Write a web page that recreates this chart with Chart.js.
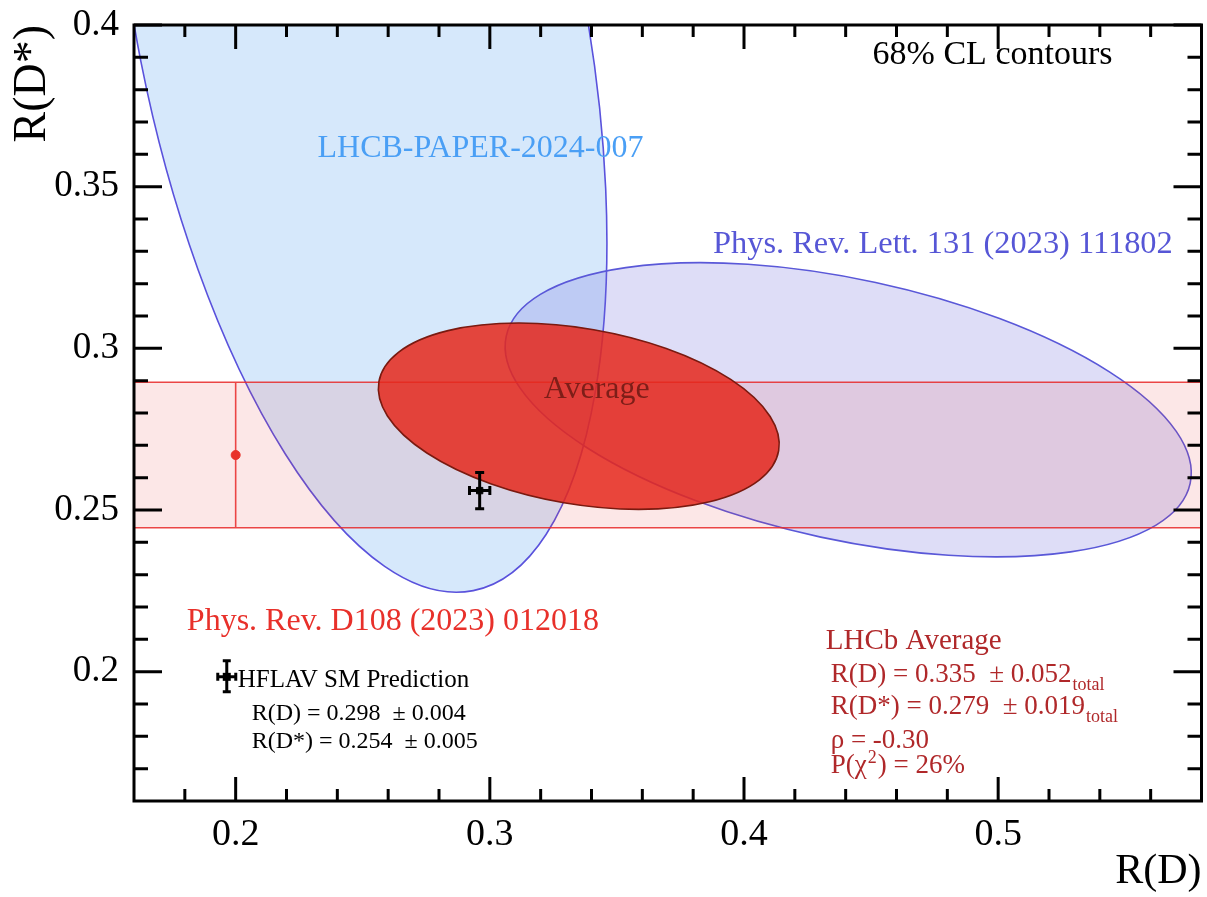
<!DOCTYPE html>
<html>
<head>
<meta charset="utf-8">
<title>R(D) vs R(D*)</title>
<script src="https://cdn.jsdelivr.net/npm/chart.js@4.4.1/dist/chart.umd.min.js"></script>
<style>
  html, body { margin: 0; padding: 0; background: #ffffff; }
  canvas { display: block; }
</style>
</head>
<body>
<canvas id="rdChart" width="1207" height="897"></canvas>
<script>
// contornos 68% CL (centro, error total, correlacion)
const contourNames = ['LHCB-PAPER-2024-007', 'Phys. Rev. Lett. 131 (2023) 111802', 'Average'];
const contourRD = [0.249, 0.441, 0.335];
const contourRDs = [0.402, 0.281, 0.279];
const contourErrRD = [0.064, 0.089, 0.052];
const contourErrRDs = [0.117, 0.030, 0.019];
const contourRho = [-0.39, -0.43, -0.30];
const contourDeltaChi2 = 2.30;

// banda R(D*) de Phys. Rev. D108 (2023) 012018
const bandRD = 0.2;
const bandRDs = 0.267;
const bandErrRDs = 0.0225;

// prediccion SM (HFLAV)
const smRD = 0.296;
const smRDs = 0.256;
const smErrRD = 0.004;
const smErrRDs = 0.0056;

// ticks
const xMajorTicks = [0.2, 0.3, 0.4, 0.5];
const xMinorTicks = [0.18, 0.22, 0.24, 0.26, 0.28, 0.32, 0.34, 0.36, 0.38, 0.42, 0.44, 0.46, 0.48, 0.52, 0.54, 0.56];
const yMajorTicks = [0.2, 0.25, 0.3, 0.35, 0.4];
const yMinorTicks = [0.17, 0.18, 0.19, 0.21, 0.22, 0.23, 0.24, 0.26, 0.27, 0.28, 0.29, 0.31, 0.32, 0.33, 0.34, 0.36, 0.37, 0.38, 0.39];

const SERIF = '"Liberation Serif", "Times New Roman", serif';

// estilos de los contornos
const contourFill = ['rgba(105, 170, 240, 0.27)', 'rgba(105, 100, 220, 0.22)', 'rgba(229, 40, 28, 0.85)'];
const contourLine = ['#5a52dc', '#5a58d8', '#7a1a10'];

// textos sobre la grafica (posicion en coordenadas de datos)
const notes = [
    { text: '68% CL contours', x: 0.4506, y: 0.3879, size: 34, color: '#000000' },
    { text: 'LHCB-PAPER-2024-007', x: 0.2322, y: 0.3592, size: 32, color: '#4a9ff5' },
    { text: 'Phys. Rev. Lett. 131 (2023) 111802', x: 0.3878, y: 0.3295, size: 32.4, color: '#5656d6' },
    { text: 'Average', x: 0.3212, y: 0.2846, size: 32, color: '#7d1e18' },
    { text: 'Phys. Rev. D108 (2023) 012018', x: 0.1808, y: 0.2129, size: 32, color: '#e8302a' },
    { text: 'HFLAV SM Prediction', x: 0.2008, y: 0.1953, size: 25, color: '#000000' },
    { text: 'R(D) = 0.298  \u00b1 0.004', x: 0.2063, y: 0.1852, size: 24, color: '#000000' },
    { text: 'R(D*) = 0.254  \u00b1 0.005', x: 0.2063, y: 0.1763, size: 24, color: '#000000' },
    { text: 'LHCb Average', x: 0.4322, y: 0.2070, size: 29, color: '#b0282a' },
    { text: 'R(D) = 0.335  \u00b1 0.052', sub: 'total', x: 0.4341, y: 0.1968, size: 27, color: '#b0282a' },
    { text: 'R(D*) = 0.279  \u00b1 0.019', sub: 'total', x: 0.4341, y: 0.1869, size: 27, color: '#b0282a' },
    { text: '\u03c1 = -0.30', x: 0.4341, y: 0.1764, size: 27, color: '#b0282a' },
    { text: 'P(\u03c7', sup: '2', after: ') = 26%', x: 0.4341, y: 0.1687, size: 27, color: '#b0282a' }
];
const legendMarkRD = 0.1965;
const legendMarkRDs = 0.1984;

function drawContour(ctx, x, y, i) {
    const cx = x.getPixelForValue(contourRD[i]);
    const cy = y.getPixelForValue(contourRDs[i]);
    const ax = x.getPixelForValue(contourRD[i] + contourErrRD[i]) - cx;
    const ay = y.getPixelForValue(contourRDs[i] + contourErrRDs[i]) - cy;
    const cxx = ax * ax;
    const cyy = ay * ay;
    const cxy = contourRho[i] * ax * ay;
    const mean = (cxx + cyy) / 2;
    const diff = Math.sqrt(((cxx - cyy) / 2) ** 2 + cxy * cxy);
    const k = Math.sqrt(contourDeltaChi2);
    const r1 = k * Math.sqrt(mean + diff);
    const r2 = k * Math.sqrt(Math.max(mean - diff, 0));
    const ang = 0.5 * Math.atan2(2 * cxy, cxx - cyy);
    ctx.beginPath();
    ctx.ellipse(cx, cy, r1, r2, ang, 0, 2 * Math.PI);
    ctx.fillStyle = contourFill[i];
    ctx.fill();
    ctx.lineWidth = 1.6;
    ctx.strokeStyle = contourLine[i];
    ctx.stroke();
}

function drawErrorCross(ctx, px, top, bottom, left, right, py, cap) {
    ctx.beginPath();
    ctx.moveTo(px, top); ctx.lineTo(px, bottom);
    ctx.moveTo(px - cap, top); ctx.lineTo(px + cap, top);
    ctx.moveTo(px - cap, bottom); ctx.lineTo(px + cap, bottom);
    ctx.moveTo(left, py); ctx.lineTo(right, py);
    ctx.moveTo(left, py - cap); ctx.lineTo(left, py + cap);
    ctx.moveTo(right, py - cap); ctx.lineTo(right, py + cap);
    ctx.stroke();
}

const hepPlugin = {
    id: 'hepPlot',
    beforeDatasetsDraw(chart) {
        const { ctx, chartArea: a, scales: { x, y } } = chart;
        ctx.save();
        ctx.beginPath();
        ctx.rect(a.left, a.top, a.right - a.left, a.bottom - a.top);
        ctx.clip();

        drawContour(ctx, x, y, 0);
        drawContour(ctx, x, y, 1);

        // banda horizontal
        const bTop = y.getPixelForValue(bandRDs + bandErrRDs);
        const bBot = y.getPixelForValue(bandRDs - bandErrRDs);
        ctx.fillStyle = 'rgba(232, 60, 60, 0.12)';
        ctx.fillRect(a.left, bTop, a.right - a.left, bBot - bTop);
        ctx.strokeStyle = 'rgba(232, 40, 40, 0.85)';
        ctx.lineWidth = 1.6;
        ctx.beginPath();
        ctx.moveTo(a.left, bTop); ctx.lineTo(a.right, bTop);
        ctx.moveTo(a.left, bBot); ctx.lineTo(a.right, bBot);
        const bx = x.getPixelForValue(bandRD);
        ctx.moveTo(bx, bTop); ctx.lineTo(bx, bBot);
        ctx.stroke();

        drawContour(ctx, x, y, 2);
        ctx.restore();
    },
    afterDatasetsDraw(chart) {
        const { ctx, chartArea: a, scales: { x, y } } = chart;
        ctx.save();

        // barras de error SM
        ctx.strokeStyle = '#000000';
        ctx.lineWidth = 3;
        drawErrorCross(ctx,
            x.getPixelForValue(smRD),
            y.getPixelForValue(smRDs + smErrRDs), y.getPixelForValue(smRDs - smErrRDs),
            x.getPixelForValue(smRD - smErrRD), x.getPixelForValue(smRD + smErrRD),
            y.getPixelForValue(smRDs), 4.5);

        // marca de la leyenda HFLAV
        const lx = x.getPixelForValue(legendMarkRD);
        const ly = y.getPixelForValue(legendMarkRDs);
        drawErrorCross(ctx, lx, ly - 16, ly + 15, lx - 9, lx + 9, ly, 4);
        ctx.fillStyle = '#000000';
        ctx.fillRect(lx - 4, ly - 4, 8, 8);

        // textos
        ctx.textAlign = 'left';
        ctx.textBaseline = 'alphabetic';
        notes.forEach(n => {
            const px = x.getPixelForValue(n.x);
            const py = y.getPixelForValue(n.y);
            ctx.fillStyle = n.color;
            ctx.font = n.size + 'px ' + SERIF;
            ctx.fillText(n.text, px, py);
            let w = ctx.measureText(n.text).width;
            if (n.sub) {
                ctx.font = Math.round(n.size * 0.68) + 'px ' + SERIF;
                ctx.fillText(n.sub, px + w + 1, py + 8);
            }
            if (n.sup) {
                ctx.font = Math.round(n.size * 0.68) + 'px ' + SERIF;
                ctx.fillText(n.sup, px + w + 1, py - 10);
                w += ctx.measureText(n.sup).width + 2;
                ctx.font = n.size + 'px ' + SERIF;
                ctx.fillText(n.after, px + w, py);
            }
        });

        // marco y ticks hacia dentro
        ctx.strokeStyle = '#000000';
        ctx.lineWidth = 3;
        ctx.strokeRect(a.left, a.top, a.right - a.left, a.bottom - a.top);
        ctx.beginPath();
        xMajorTicks.concat(xMinorTicks).forEach(v => {
            const px = x.getPixelForValue(v);
            const len = xMajorTicks.includes(v) ? 24 : 12;
            ctx.moveTo(px, a.bottom); ctx.lineTo(px, a.bottom - len);
            ctx.moveTo(px, a.top); ctx.lineTo(px, a.top + len);
        });
        yMajorTicks.concat(yMinorTicks).forEach(v => {
            const py = y.getPixelForValue(v);
            const len = yMajorTicks.includes(v) ? 28 : 14;
            ctx.moveTo(a.left, py); ctx.lineTo(a.left + len, py);
            ctx.moveTo(a.right, py); ctx.lineTo(a.right - len, py);
        });
        ctx.stroke();
        ctx.restore();
    }
};

const rdChart = new Chart(document.getElementById('rdChart'), {
    type: 'scatter',
    data: {
        datasets: [{
            label: 'Phys. Rev. D108 (2023) 012018',
            data: [{ x: bandRD, y: bandRDs }],
            pointStyle: 'circle',
            pointRadius: 4.5,
            backgroundColor: '#e8322a',
            borderColor: '#e8322a'
        }, {
            label: 'HFLAV SM Prediction',
            data: [{ x: smRD, y: smRDs }],
            pointStyle: 'rect',
            pointRadius: 4.5,
            backgroundColor: '#000000',
            borderColor: '#000000'
        }]
    },
    options: {
        responsive: false,
        devicePixelRatio: 1,
        animation: false,
        events: [],
        layout: { padding: { left: 0, right: 1, top: 25, bottom: 0 } },
        plugins: {
            legend: { display: false },
            tooltip: { enabled: false }
        },
        scales: {
            x: {
                type: 'linear',
                min: 0.16,
                max: 0.58,
                grid: { display: false, drawTicks: false },
                border: { display: false },
                afterBuildTicks: s => { s.ticks = xMajorTicks.map(v => ({ value: v })); },
                afterFit: s => {
                    s.height = 96;
                    s.paddingLeft = 0;
                    s.paddingRight = 0;
                },
                ticks: {
                    padding: 11,
                    color: '#000000',
                    font: { family: SERIF, size: 38 },
                    callback: v => String(v)
                },
                title: {
                    display: true,
                    text: 'R(D)',
                    align: 'end',
                    color: '#000000',
                    font: { family: SERIF, size: 42 },
                    padding: { top: 0, bottom: 0 }
                }
            },
            y: {
                type: 'linear',
                min: 0.16,
                max: 0.4,
                grid: { display: false, drawTicks: false },
                border: { display: false },
                afterBuildTicks: s => { s.ticks = yMajorTicks.map(v => ({ value: v })); },
                afterFit: s => {
                    s.width = 134;
                    s.paddingTop = 0;
                    s.paddingBottom = 0;
                },
                ticks: {
                    padding: 15,
                    color: '#000000',
                    font: { family: SERIF, size: 37 },
                    callback: v => String(v)
                },
                title: {
                    display: true,
                    text: 'R(D*)',
                    align: 'end',
                    color: '#000000',
                    font: { family: SERIF, size: 46 },
                    padding: { top: 5, bottom: 0 }
                }
            }
        }
    },
    plugins: [hepPlugin]
});
</script>
</body>
</html>
